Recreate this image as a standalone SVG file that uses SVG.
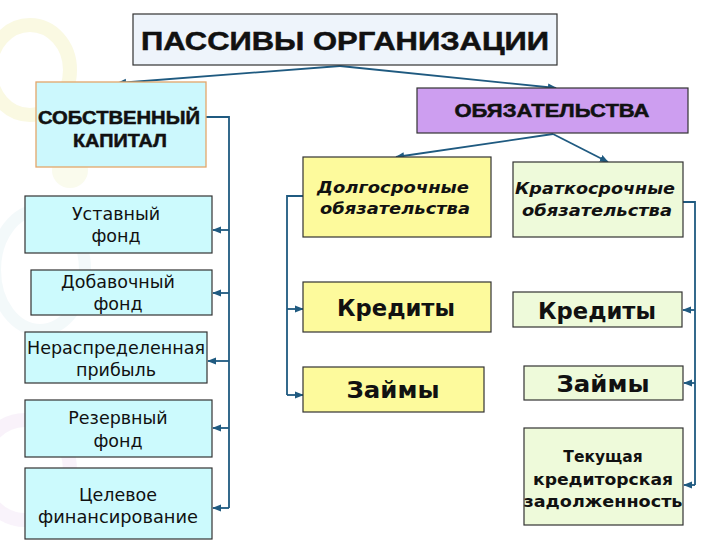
<svg xmlns="http://www.w3.org/2000/svg" width="720" height="540" viewBox="0 0 720 540">
<defs>
<marker id="ah" viewBox="0 0 10 10" refX="9" refY="5" markerWidth="5" markerHeight="5" orient="auto-start-reverse" markerUnits="strokeWidth">
<path d="M0,1 L10,5 L0,9 z" fill="#1f5a80"/>
</marker>
<style>
.bx{stroke:#333;stroke-width:1.2}
.cyan{fill:#ccfafd}
.yel{fill:#fdfa9c}
.grn{fill:#eefada}
.t{font-family:"DejaVu Sans",Verdana,sans-serif;fill:#111;text-anchor:middle}
.reg{font-size:17.5px}
.bi{font-size:16.5px;font-weight:bold;font-style:italic}
.big{font-size:23px;font-weight:bold}
.cap{font-family:"Liberation Sans",Arial,sans-serif;font-weight:bold;fill:#111;text-anchor:middle;stroke:#111;stroke-width:0.5}
.ln{fill:none;stroke:#1f5a80;stroke-width:1.8}
.ar{fill:none;stroke:#1f5a80;stroke-width:1.8;marker-end:url(#ah)}
</style>
</defs>
<rect width="720" height="540" fill="#ffffff"/>
<g id="background" opacity="0.45">
<ellipse cx="30" cy="70" rx="40" ry="45" fill="none" stroke="#f4f2c0" stroke-width="14"/>
<ellipse cx="40" cy="270" rx="45" ry="60" fill="none" stroke="#e6f2f6" stroke-width="12"/>
<ellipse cx="25" cy="470" rx="45" ry="50" fill="none" stroke="#f2e4f6" stroke-width="14"/>
<circle cx="70" cy="170" r="18" fill="#f4f7d8"/>
</g>
<g id="connectors">
<line class="ar" x1="340" y1="66" x2="118" y2="83"/>
<line class="ar" x1="340" y1="66" x2="556" y2="88"/>
<line class="ar" x1="553" y1="134" x2="396" y2="157"/>
<line class="ar" x1="553" y1="134" x2="608" y2="162"/>
<polyline class="ln" points="206,117 229,117 229,508"/>
<line class="ar" x1="229" y1="230" x2="213" y2="230"/>
<line class="ar" x1="229" y1="293" x2="213" y2="293"/>
<line class="ar" x1="229" y1="361" x2="208" y2="361"/>
<line class="ar" x1="229" y1="428" x2="213" y2="428"/>
<line class="ar" x1="229" y1="508" x2="213" y2="508"/>
<polyline class="ln" points="303,196 287,196 287,395"/>
<line class="ar" x1="287" y1="309" x2="303" y2="309"/>
<line class="ar" x1="287" y1="395" x2="303" y2="395"/>
<polyline class="ln" points="683,202 695,202 695,485"/>
<line class="ar" x1="695" y1="310" x2="683" y2="310"/>
<line class="ar" x1="695" y1="383" x2="684" y2="383"/>
<line class="ar" x1="695" y1="485" x2="684" y2="485"/>
</g>
<g id="title">
<rect x="133" y="14" width="424" height="51" fill="#eef4fb" class="bx"/>
<text class="cap" x="345" y="50" font-size="25" textLength="408" lengthAdjust="spacingAndGlyphs">ПАССИВЫ ОРГАНИЗАЦИИ</text>
</g>
<g id="own-capital">
<rect x="36" y="82" width="170" height="85" fill="#ccf8fd" stroke="#e3a66a" stroke-width="1.3"/>
<text class="cap" x="119" y="124" font-size="18" textLength="162" lengthAdjust="spacingAndGlyphs">СОБСТВЕННЫЙ</text>
<text class="cap" x="120" y="147" font-size="18" textLength="94" lengthAdjust="spacingAndGlyphs">КАПИТАЛ</text>
</g>
<g id="liabilities">
<rect x="417" y="88" width="271" height="45" fill="#cd9ef0" class="bx"/>
<text class="cap" x="552" y="117" font-size="18" textLength="195" lengthAdjust="spacingAndGlyphs">ОБЯЗАТЕЛЬСТВА</text>
</g>
<g id="ustavny">
<rect x="25" y="196" width="187" height="57" class="bx cyan"/>
<text class="t reg" x="116" y="220">Уставный</text>
<text class="t reg" x="116" y="242">фонд</text>
</g>
<g id="dobavochny">
<rect x="31" y="270" width="181" height="45" class="bx cyan"/>
<text class="t reg" x="118" y="288">Добавочный</text>
<text class="t reg" x="118" y="310">фонд</text>
</g>
<g id="neraspr">
<rect x="25" y="332" width="182" height="51" class="bx cyan"/>
<text class="t reg" x="116" y="354" textLength="178" lengthAdjust="spacingAndGlyphs">Нераспределенная</text>
<text class="t reg" x="116" y="376">прибыль</text>
</g>
<g id="rezerv">
<rect x="25" y="400" width="187" height="57" class="bx cyan"/>
<text class="t reg" x="118" y="424">Резервный</text>
<text class="t reg" x="118" y="447">фонд</text>
</g>
<g id="celevoe">
<rect x="25" y="468" width="187" height="71" class="bx cyan"/>
<text class="t reg" x="118" y="501">Целевое</text>
<text class="t reg" x="118" y="523" textLength="160" lengthAdjust="spacingAndGlyphs">финансирование</text>
</g>
<g id="long-term">
<rect x="303" y="157" width="188" height="80" class="bx yel"/>
<text class="t bi" x="393" y="193" textLength="152" lengthAdjust="spacingAndGlyphs">Долгосрочные</text>
<text class="t bi" x="395" y="214" textLength="150" lengthAdjust="spacingAndGlyphs">обязательства</text>
</g>
<g id="short-term">
<rect x="513" y="162" width="170" height="75" class="bx grn"/>
<text class="t bi" x="595" y="194" textLength="160" lengthAdjust="spacingAndGlyphs">Краткосрочные</text>
<text class="t bi" x="597" y="216" textLength="150" lengthAdjust="spacingAndGlyphs">обязательства</text>
</g>
<g id="credits-long">
<rect x="303" y="282" width="188" height="50" class="bx yel"/>
<text class="t big" x="396" y="316" textLength="118" lengthAdjust="spacingAndGlyphs">Кредиты</text>
</g>
<g id="loans-long">
<rect x="303" y="367" width="181" height="45" class="bx yel"/>
<text class="t big" x="393" y="398" textLength="93" lengthAdjust="spacingAndGlyphs">Займы</text>
</g>
<g id="credits-short">
<rect x="513" y="292" width="169" height="35" class="bx grn"/>
<text class="t big" x="597" y="319" textLength="118" lengthAdjust="spacingAndGlyphs">Кредиты</text>
</g>
<g id="loans-short">
<rect x="524" y="366" width="159" height="34" class="bx grn"/>
<text class="t big" x="603" y="392" textLength="93" lengthAdjust="spacingAndGlyphs">Займы</text>
</g>
<g id="payables">
<rect x="524" y="428" width="159" height="97" class="bx grn"/>
<text class="t" x="603" y="462" font-size="15.5" font-weight="bold">Текущая</text>
<text class="t" x="603" y="485" font-size="15.5" font-weight="bold" textLength="140" lengthAdjust="spacingAndGlyphs">кредиторская</text>
<text class="t" x="603" y="507" font-size="15.5" font-weight="bold" textLength="159" lengthAdjust="spacingAndGlyphs">задолженность</text>
</g>
</svg>
